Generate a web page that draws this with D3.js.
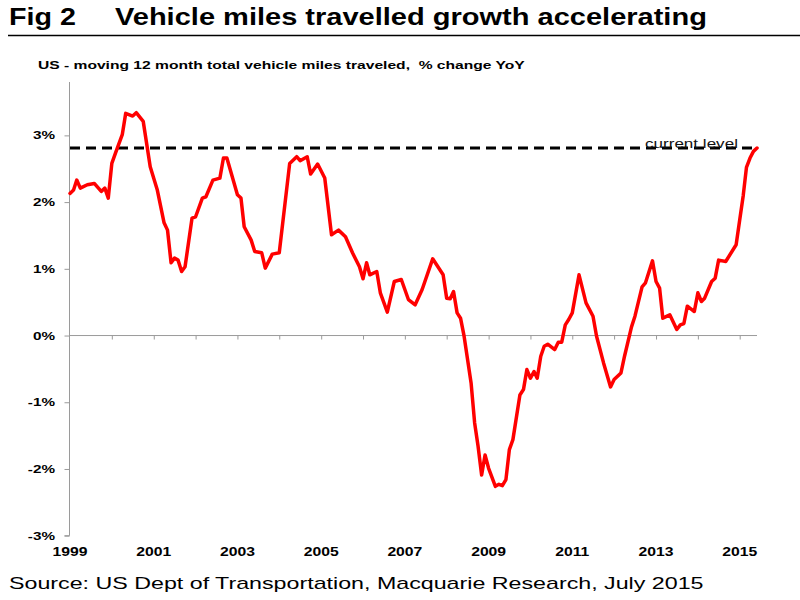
<!DOCTYPE html>
<html>
<head>
<meta charset="utf-8">
<script src="https://cdn.jsdelivr.net/npm/d3@7"></script>
<style>
  html, body { margin: 0; padding: 0; background: #fff; }
  svg { display: block; font-family: "Liberation Sans", Arial, Helvetica, sans-serif; }
  text { white-space: pre; }
</style>
</head>
<body>
<svg id="chart" width="800" height="600"></svg>
<script>
// ---- data ----
const months = [
  "1999-01","1999-02","1999-03","1999-04","1999-06","1999-08","1999-10","1999-11","1999-12",
  "2000-01","2000-02","2000-04","2000-05","2000-07","2000-08","2000-10","2000-12",
  "2001-02","2001-04","2001-05","2001-06","2001-07","2001-08","2001-09","2001-10","2001-12",
  "2002-01","2002-03","2002-04","2002-06","2002-08","2002-09","2002-10",
  "2003-01","2003-02","2003-03","2003-05","2003-06","2003-08","2003-09","2003-11",
  "2004-01","2004-04","2004-06","2004-07","2004-09","2004-10","2004-12",
  "2005-02","2005-04","2005-06","2005-08","2005-10","2005-12",
  "2006-01","2006-02","2006-03","2006-05","2006-06","2006-08","2006-10","2006-12",
  "2007-02","2007-04","2007-06","2007-09","2007-12",
  "2008-01","2008-02","2008-03","2008-04","2008-05","2008-06","2008-08","2008-09","2008-10","2008-11","2008-12",
  "2009-01","2009-03","2009-04","2009-05","2009-06","2009-07","2009-08","2009-10","2009-11","2009-12",
  "2010-01","2010-02","2010-03","2010-04","2010-05","2010-06","2010-08","2010-09","2010-10","2010-11","2010-12",
  "2011-01","2011-03","2011-05","2011-07","2011-08","2011-10","2011-12",
  "2012-01","2012-03","2012-04","2012-06","2012-07","2012-09","2012-10","2012-12",
  "2013-01","2013-02","2013-03","2013-05","2013-07","2013-08","2013-09","2013-10","2013-12",
  "2014-01","2014-02","2014-03","2014-05","2014-06","2014-07","2014-09","2014-12",
  "2015-01","2015-02","2015-03","2015-04","2015-05","2015-06"
];
const vmtGrowth = [
  2.13,2.18,2.33,2.21,2.26,2.28,2.16,2.21,2.06,
  2.58,2.73,3.01,3.33,3.29,3.34,3.21,2.53,
  2.18,1.69,1.58,1.09,1.16,1.13,0.96,1.03,1.76,
  1.78,2.06,2.08,2.33,2.36,2.66,2.66,
  2.11,2.06,1.63,1.43,1.26,1.24,1.01,1.22,
  1.24,2.58,2.68,2.62,2.68,2.42,2.57,
  2.36,1.51,1.58,1.48,1.24,1.03,
  0.85,1.09,0.91,0.96,0.64,0.35,0.81,0.84,
  0.54,0.46,0.69,1.15,0.91,
  0.56,0.55,0.66,0.34,0.26,-0.01,-0.71,-1.31,-1.66,-2.09,-1.79,
  -1.99,-2.26,-2.23,-2.25,-2.16,-1.71,-1.56,-0.89,-0.81,-0.51,
  -0.64,-0.54,-0.64,-0.31,-0.16,-0.13,-0.21,-0.10,-0.10,0.16,0.24,
  0.34,0.91,0.49,0.29,-0.01,-0.41,-0.77,
  -0.66,-0.56,-0.31,0.13,0.29,0.73,0.79,1.12,
  0.81,0.71,0.26,0.31,0.09,0.16,0.18,0.44,0.36,
  0.64,0.51,0.56,0.81,0.86,1.13,1.11,1.36,
  1.73,2.10,2.52,2.66,2.76,2.81
];
const yTicks = [-3, -2, -1, 0, 1, 2, 3];
const xLabelYears = [1999, 2001, 2003, 2005, 2007, 2009, 2011, 2013, 2015];
const currentLevel = 2.81;
const titleFig = "Fig 2";
const titleText = "Vehicle miles travelled growth accelerating";
const subtitleText = "US - moving 12 month total vehicle miles traveled,  % change YoY";
const currentLabel = "current level";
const sourceText = "Source: US Dept of Transportation, Macquarie Research, July 2015";

// ---- setup ----
const parse = d3.timeParse("%Y-%m");
const data = months.map((m, i) => ({ date: parse(m), value: vmtGrowth[i] }));
const svg = d3.select("#chart");

const x = d3.scaleTime()
  .domain([parse("1999-01"), parse("2015-06")])
  .range([70, 757]);
const y = d3.scaleLinear().domain([-3, 3.8]).range([535.7, 82]);

const axisColor = "#9a9a9a";

// horizontally stretch a text (the reference image is widened) around its anchor point
function placeText(g, str, px, py, opts) {
  const t = g.append("text").attr("x", 0).attr("y", 0)
    .attr("font-size", opts.size).attr("font-weight", opts.weight || "normal")
    .attr("fill", opts.fill || "#000")
    .attr("text-anchor", opts.anchor || "start")
    .text(str);
  const w = t.node().getComputedTextLength();
  const k = opts.width ? opts.width / w : (opts.k || 1);
  t.attr("transform", `translate(${px},${py}) scale(${k},1)`);
  return t;
}

// ---- titles ----
placeText(svg, titleFig, 9, 25, { size: 24, weight: "bold", width: 67 });
placeText(svg, titleText, 115, 25, { size: 24, weight: "bold", width: 592 });
svg.append("line").attr("x1", 8).attr("x2", 800).attr("y1", 35.5).attr("y2", 35.5)
  .attr("stroke", "#000").attr("stroke-width", 1.5);
placeText(svg, subtitleText, 38, 69, { size: 11.5, weight: "bold", width: 487 });

// ---- y axis ----
const yAxis = svg.append("g").attr("transform", "translate(69.5,0)")
  .call(d3.axisLeft(y).tickValues(yTicks).tickSize(5).tickFormat(""));
yAxis.select(".domain").attr("stroke", axisColor).attr("d", `M-5,${y(-3)}H0V${y(3.8)}`);
yAxis.selectAll(".tick line").attr("stroke", axisColor);
const yLab = svg.append("g");
yTicks.forEach(v => {
  placeText(yLab, v + "%", 55, y(v) + 4, { size: 11.5, weight: "bold", anchor: "end", k: 1.33 });
});

// ---- x axis (at 0%) ----
const yearTicks = d3.range(2000, 2016).map(yr => new Date(yr, 0, 1));
const xAxis = svg.append("g").attr("transform", `translate(0,${y(0)})`)
  .call(d3.axisBottom(x).tickValues(yearTicks).tickSize(4).tickFormat(""));
xAxis.select(".domain").attr("stroke", axisColor).attr("d", `M70,0H757`);
xAxis.selectAll(".tick line").attr("stroke", axisColor);

// x labels at bottom
const xLab = svg.append("g");
xLabelYears.forEach(yr => {
  placeText(xLab, String(yr), x(new Date(yr, 0, 1)), 555.7,
    { size: 12, weight: "bold", anchor: "middle", k: 1.31 });
});

// ---- current level dashed line ----
svg.append("line")
  .attr("x1", x(data[0].date)).attr("x2", x(data[data.length - 1].date))
  .attr("y1", y(currentLevel)).attr("y2", y(currentLevel))
  .attr("stroke", "#000").attr("stroke-width", 3).attr("stroke-dasharray", "10,6");

// ---- series line ----
svg.append("path").datum(data)
  .attr("fill", "none").attr("stroke", "#ff0000").attr("stroke-width", 3.5)
  .attr("stroke-linejoin", "round").attr("stroke-linecap", "round")
  .attr("d", d3.line().x(d => x(d.date)).y(d => y(d.value)));

// current level label
placeText(svg, currentLabel, 645, y(currentLevel) - 0.5, { size: 12.5, fill: "#111", width: 93 });

// ---- source ----
placeText(svg, sourceText, 9, 589, { size: 16, width: 695 });
</script>
</body>
</html>
